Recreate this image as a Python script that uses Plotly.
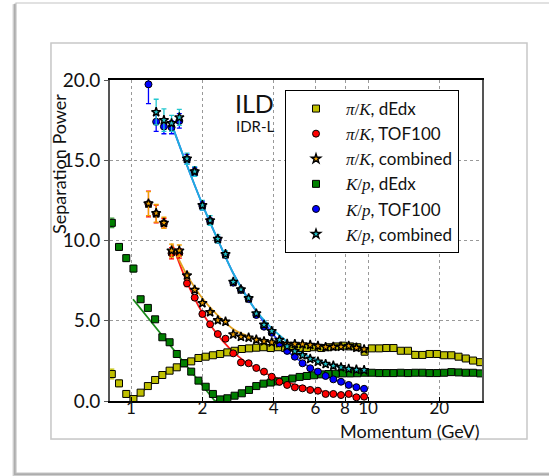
import plotly.graph_objects as go

# ---------------- data ----------------
# momentum bins (GeV) for the dE/dx points
p_dedx = [0.830, 0.890, 0.955, 1.024, 1.098, 1.178, 1.264, 1.356, 1.455, 1.560,
          1.674, 1.795, 1.926, 2.066, 2.216, 2.378, 2.550, 2.736, 2.935, 3.148,
          3.377, 3.623, 3.886, 4.169, 4.472, 4.797, 5.146, 5.520, 5.921, 6.352,
          6.813, 7.309, 7.840, 8.410, 9.022, 9.678, 10.38, 11.14, 11.95, 12.81,
          13.75, 14.75, 15.82, 16.97, 18.20, 19.53, 20.95, 22.47, 24.10, 25.86,
          27.74, 29.75]
pik_dedx = [1.68, 1.10, 0.44, 0.12, 0.52, 0.93, 1.31, 1.62, 1.89, 2.10,
            2.35, 2.47, 2.68, 2.76, 2.85, 2.93, 3.03, 3.13, 3.24, 3.28,
            3.32, 3.35, 3.30, 3.35, 3.30, 3.35, 3.30, 3.30, 3.35, 3.30,
            3.35, 3.40, 3.45, 3.40, 3.35, 3.07, 3.28, 3.28, 3.30, 3.30,
            3.13, 3.13, 2.87, 2.87, 2.93, 2.93, 2.85, 2.85, 2.76, 2.65,
            2.52, 2.42]
kp_dedx = [11.1, 9.6, 8.9, 8.25, 6.34, 5.80, 5.09, 3.97, 3.66, 2.93,
           2.35, 1.83, 1.27, 0.89, 0.44, 0.10, 0.17, 0.33, 0.48, 0.69,
           0.93, 1.08, 1.15, 1.22, 1.31, 1.40, 1.50, 1.56, 1.60, 1.66,
           1.68, 1.70, 1.72, 1.72, 1.73, 1.76, 1.76, 1.74, 1.74, 1.74,
           1.76, 1.74, 1.76, 1.76, 1.74, 1.74, 1.76, 1.80, 1.78, 1.76,
           1.76, 1.72]
dedx_err = [0.30, 0.20, 0.20, 0.20, 0.10, 0.10, 0.08, 0.08, 0.08, 0.06,
            0.06, 0.06, 0.06, 0.06, 0.06, 0.05, 0.05, 0.05, 0.05, 0.05,
            0.05, 0.05, 0.05, 0.05, 0.05, 0.05, 0.05, 0.05, 0.05, 0.05,
            0.05, 0.05, 0.05, 0.05, 0.05, 0.05, 0.05, 0.05, 0.05, 0.05,
            0.05, 0.05, 0.05, 0.05, 0.05, 0.05, 0.05, 0.05, 0.05, 0.05,
            0.05, 0.05]

# momentum bins (GeV) for the time-of-flight points
p_tof = [1.185, 1.277, 1.377, 1.483, 1.599, 1.723, 1.857, 2.001, 2.157, 2.324,
         2.505, 2.700, 2.910, 3.136, 3.379, 3.641, 3.925, 4.229, 4.558, 4.912,
         5.293, 5.704, 6.148, 6.625, 7.140, 7.694, 8.291, 8.934, 9.628]
pik_tof = [12.27, 11.65, 11.07, 9.20, 9.20, 7.33, 6.44, 5.42, 4.78, 4.17,
           3.88, 2.97, 2.40, 2.35, 2.06, 1.83, 1.51, 1.20, 1.00, 0.85,
           0.79, 0.69, 0.64, 0.44, 0.44, 0.37, 0.44, 0.23, 0.27]
pik_tof_err = [0.80, 0.55, 0.30, 0.35, 0.30, 0.20, 0.15, 0.12, 0.10, 0.10,
               0.08, 0.08, 0.06, 0.06, 0.06, 0.05, 0.05, 0.05, 0.05, 0.05,
               0.05, 0.05, 0.05, 0.05, 0.05, 0.05, 0.05, 0.05, 0.05]
pik_comb = [12.30, 11.70, 11.10, 9.37, 9.37, 7.82, 6.92, 6.10, 5.53, 5.03,
            4.94, 4.15, 4.00, 3.95, 3.82, 3.72, 3.65, 3.60, 3.56, 3.55,
            3.53, 3.49, 3.43, 3.36, 3.38, 3.38, 3.43, 3.32, 3.22]
pik_comb_err = [0.75, 0.55, 0.35, 0.40, 0.35, 0.20, 0.15, 0.12, 0.10, 0.10,
                0.08, 0.08, 0.06, 0.06, 0.06, 0.05, 0.05, 0.05, 0.05, 0.05,
                0.05, 0.05, 0.05, 0.05, 0.05, 0.05, 0.05, 0.05, 0.05]
kp_tof = [19.73, 17.40, 17.10, 17.05, 17.45, 15.06, 14.29, 12.15, 11.20, 10.05,
          9.10, 7.37, 6.92, 6.35, 5.36, 4.63, 4.25, 3.59, 3.12, 2.76,
          2.35, 2.04, 1.83, 1.56, 1.35, 1.20, 1.00, 0.86, 0.76]
kp_tof_err = [1.20, 0.60, 0.45, 0.40, 0.45, 0.30, 0.25, 0.25, 0.20, 0.18,
              0.15, 0.12, 0.10, 0.10, 0.08, 0.08, 0.08, 0.06, 0.06, 0.06,
              0.05, 0.05, 0.05, 0.05, 0.05, 0.05, 0.05, 0.05, 0.05]
# combined K/p starts at the second TOF bin
kp_comb = [18.00, 17.50, 17.30, 17.67, 15.10, 14.30, 12.20, 11.25, 10.10,
           9.15, 7.42, 6.95, 6.40, 5.45, 4.75, 4.35, 3.80, 3.40, 3.10,
           2.85, 2.62, 2.45, 2.30, 2.20, 2.10, 2.00, 1.95, 1.92]
kp_comb_err = [0.80, 0.70, 0.50, 0.50, 0.35, 0.30, 0.30, 0.30, 0.25,
               0.20, 0.15, 0.12, 0.12, 0.10, 0.08, 0.08, 0.08, 0.06, 0.06,
               0.06, 0.05, 0.05, 0.05, 0.05, 0.05, 0.05, 0.05, 0.05]

# fitted curves (momentum, separation)
fit_pik_dedx_p = [1.0, 1.1, 1.2, 1.4, 1.6, 1.8, 2.0, 2.5, 3.0, 4.0, 6.0, 10, 15, 20, 25, 30]
fit_pik_dedx_v = [0.0, 0.5, 1.0, 1.7, 2.18, 2.5, 2.72, 3.05, 3.22, 3.33, 3.36, 3.30, 3.10, 2.90, 2.68, 2.45]
fit_kp_dedx_p = [1.02, 2.26, 2.5, 2.75, 3.0, 3.4, 4.0, 5.0, 6.0, 8.0, 10, 15, 20, 30]
fit_kp_dedx_v = [6.34, 0.0, 0.15, 0.33, 0.55, 0.90, 1.18, 1.45, 1.60, 1.70, 1.75, 1.76, 1.76, 1.74]
fit_pik_tof_p = [1.5, 1.7, 2.0, 2.3, 2.6, 3.0, 3.5, 4.0, 5.0, 6.0, 7.0, 8.0, 9.0, 9.9]
fit_pik_tof_v = [9.7, 7.6, 5.5, 4.2, 3.3, 2.5, 1.9, 1.5, 0.98, 0.70, 0.50, 0.37, 0.28, 0.22]
fit_pik_comb_p = [1.48, 1.7, 2.0, 2.3, 2.75, 3.2, 3.5, 4.0, 5.0, 6.0, 8.0, 9.8]
fit_pik_comb_v = [9.8, 8.0, 6.4, 5.4, 4.4, 3.97, 3.8, 3.65, 3.5, 3.42, 3.33, 3.28]
fit_kp_tof_p = [1.48, 1.69, 2.02, 2.3, 2.7, 3.28, 3.86, 4.5, 5.0, 6.0, 7.0, 8.0, 9.0, 9.8]
fit_kp_tof_v = [17.3, 15.0, 12.1, 10.2, 7.96, 5.87, 4.4, 3.2, 2.65, 1.9, 1.42, 1.1, 0.85, 0.68]
fit_kp_comb_p = [1.48, 1.69, 2.02, 2.3, 2.7, 3.28, 3.86, 4.5, 5.0, 6.0, 7.0, 8.0, 9.0, 9.8]
fit_kp_comb_v = [17.3, 15.0, 12.1, 10.2, 7.96, 5.87, 4.63, 3.75, 3.15, 2.6, 2.25, 2.05, 1.92, 1.85]

x_ticks = [1, 2, 4, 6, 8, 10, 20]
y_ticks = [0, 5, 10, 15, 20]

# ---------------- style ----------------
FONT = "Lato, 'Liberation Sans', sans-serif"
MATH = "font-family:'Liberation Serif', serif"
PIK = f'<span style="{MATH}"><i>π</i>/<i>K</i></span>'
KP = f'<span style="{MATH}"><i>K</i>/<i>p</i></span>'

YEL, YEL_L = "#bfbf00", "#c4c400"
GRN, GRN_L = "#008000", "#1b8c1b"
RED, RED_L = "#ff0000", "#ff1a1a"
ORG, ORG_L = "#f0a000", "#e0a020"
BLU, BLU_L = "#0000ff", "#2a3cff"
CYN, CYN_L = "#22c8d0", "#1eb0dc"

fig = go.Figure()


def add_line(px, vals, color, shape="spline"):
    fig.add_trace(go.Scatter(x=px, y=vals, mode="lines", showlegend=False,
                             hoverinfo="skip",
                             line=dict(color=color, width=1.8, shape=shape,
                                       smoothing=0.8)))


def add_points(px, vals, err, name, fill, symbol, size, rank, errcolor, edge=1.0):
    fig.add_trace(go.Scatter(
        x=px, y=vals, mode="markers", name=name, legendrank=rank,
        legendgroup=str(rank),
        marker=dict(symbol=symbol, size=size, color=fill,
                    line=dict(color="black", width=edge)),
        error_y=dict(type="data", array=err, color=errcolor,
                     thickness=1.3, width=2.5)))


add_line(fit_pik_dedx_p, fit_pik_dedx_v, YEL_L)
add_line(fit_kp_dedx_p, fit_kp_dedx_v, GRN_L, shape="linear")
add_line(fit_pik_tof_p, fit_pik_tof_v, RED_L)
add_line(fit_pik_comb_p, fit_pik_comb_v, ORG_L)
add_line(fit_kp_tof_p, fit_kp_tof_v, BLU_L)
add_line(fit_kp_comb_p, fit_kp_comb_v, CYN_L)

add_points(p_dedx, pik_dedx, dedx_err, f"{PIK}, dEdx", YEL, "square", 7, 1, YEL)
add_points(p_dedx, kp_dedx, dedx_err, f"{KP}, dEdx", GRN, "square", 7, 4, "#3aa03a")
add_points(p_tof, pik_tof, pik_tof_err, f"{PIK}, TOF100", RED, "circle", 7, 2, RED)
add_points(p_tof, pik_comb, pik_comb_err, f"{PIK}, combined", ORG, "star", 7, 3, ORG, 1.4)
add_points(p_tof, kp_tof, kp_tof_err, f"{KP}, TOF100", BLU, "circle", 7, 5, BLU)
add_points(p_tof[1:], kp_comb, kp_comb_err, f"{KP}, combined", CYN, "star", 7, 6, CYN, 1.4)

# ---------------- frames around the figure ----------------
W, H = 549, 476
L, R, T, B = 110, 482, 80, 401


def fx(px):
    return (px - L) / (R - L)


def fy(py):
    return (B - py) / (B - T)


shapes = []
# soft shadow behind the outer panel
for off, op in [(4, 0.08), (3, 0.12), (2, 0.16)]:
    shapes.append(dict(type="rect", xref="paper", yref="paper", layer="below",
                       x0=fx(16 - off), x1=fx(560), y0=fy(473 + off), y1=fy(3 + off * 0.3),
                       fillcolor=f"rgba(0,0,0,{op})", line=dict(width=0)))
shapes.append(dict(type="rect", xref="paper", yref="paper", layer="below",
                   x0=fx(16), x1=fx(560), y0=fy(473), y1=fy(3),
                   fillcolor="white", line=dict(color="#c4c4c4", width=1.2)))
# inner panel
shapes.append(dict(type="rect", xref="paper", yref="paper", layer="below",
                   x0=fx(50), x1=fx(527), y0=fy(440), y1=fy(43),
                   fillcolor="rgba(0,0,0,0.06)", line=dict(width=0)))
shapes.append(dict(type="rect", xref="paper", yref="paper", layer="below",
                   x0=fx(51), x1=fx(527), y0=fy(439), y1=fy(43),
                   fillcolor="white", line=dict(color="#c8c8c8", width=1.5)))

annotations = [
    dict(text="ILD", xref="paper", yref="paper", x=fx(233), y=fy(103),
         xanchor="left", yanchor="middle", showarrow=False,
         font=dict(family=FONT, size=25, color="#111")),
    dict(text="IDR-L", xref="paper", yref="paper", x=fx(234), y=fy(126),
         xanchor="left", yanchor="middle", showarrow=False,
         font=dict(family=FONT, size=15, color="#111")),
    dict(text="Separation Power", xref="paper", yref="paper", x=fx(59), y=fy(164),
         xanchor="center", yanchor="middle", textangle=-90, showarrow=False,
         font=dict(family=FONT, size=18, color="#111")),
    dict(text="Momentum (GeV)", xref="paper", yref="paper", x=1.0, y=fy(431),
         xanchor="right", yanchor="middle", showarrow=False,
         font=dict(family=FONT, size=18, color="#111")),
]

fig.update_layout(
    width=W, height=H,
    margin=dict(l=L, r=W - R, t=T, b=H - B, pad=0),
    paper_bgcolor="white", plot_bgcolor="white",
    font=dict(family=FONT, size=17, color="#111"),
    shapes=shapes, annotations=annotations,
    legend=dict(x=fx(285), y=fy(90), xanchor="left", yanchor="top",
                bgcolor="white", bordercolor="black", borderwidth=1,
                font=dict(family=FONT, size=17, color="#111"),
                itemwidth=50, tracegroupgap=2, traceorder="normal"),
    xaxis=dict(type="log", range=[-0.0886, 1.481], tickvals=x_ticks,
               ticktext=[str(v) for v in x_ticks],
               showgrid=True, gridcolor="#999", griddash="dot", gridwidth=1,
               showline=True, linecolor="black", linewidth=1.6, mirror=True,
               ticks="inside", ticklen=4, tickcolor="black",
               ticklabelstandoff=-9,
               tickfont=dict(family=FONT, size=17, color="#111"), zeroline=False),
    yaxis=dict(range=[0, 20], tickvals=y_ticks, tickformat=".1f",
               showgrid=True, gridcolor="#999", griddash="dot", gridwidth=1,
               showline=True, linecolor="#555", linewidth=1.6, mirror=True,
               ticks="outside", ticklen=4, tickcolor="#555",
               tickfont=dict(family=FONT, size=19, color="#111"), zeroline=False),
)

fig.write_html("out.html")
